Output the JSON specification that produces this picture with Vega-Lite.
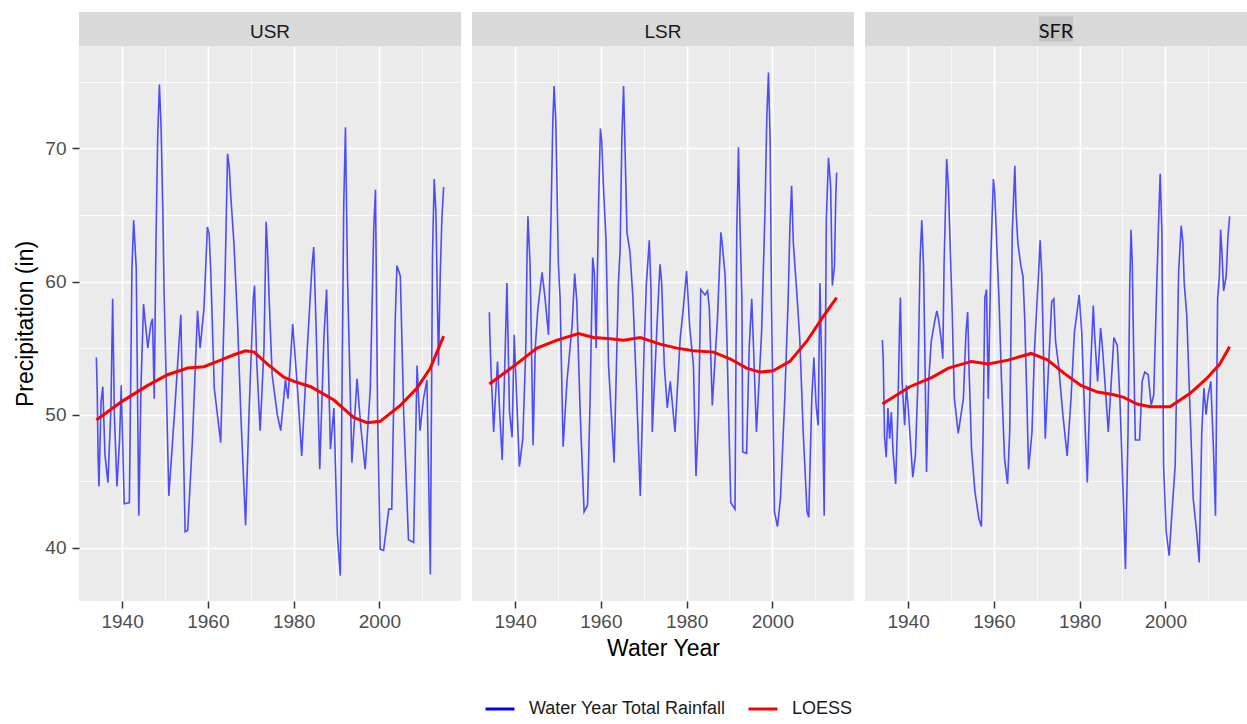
{
  "$schema": "https://vega.github.io/schema/vega-lite/v6.json",
  "background": "white",
  "padding": {"left": 14, "top": 12, "right": 0, "bottom": 0},
  "datasets": {
    "usr_rain": [
      {"year": 1934.0, "precip": 54.3}, {"year": 1934.2, "precip": 51.8}, {"year": 1934.4, "precip": 46.9}, {"year": 1934.6, "precip": 44.6},
      {"year": 1935.1, "precip": 51.0}, {"year": 1935.5, "precip": 52.1}, {"year": 1936.0, "precip": 47.0}, {"year": 1936.7, "precip": 44.9},
      {"year": 1937.4, "precip": 50.5}, {"year": 1937.8, "precip": 58.7}, {"year": 1938.2, "precip": 50.0}, {"year": 1938.8, "precip": 44.6},
      {"year": 1939.4, "precip": 48.0}, {"year": 1939.8, "precip": 52.2}, {"year": 1940.5, "precip": 43.3}, {"year": 1941.7, "precip": 43.4},
      {"year": 1942.3, "precip": 61.0}, {"year": 1942.7, "precip": 64.6}, {"year": 1943.3, "precip": 61.0}, {"year": 1943.9, "precip": 42.4},
      {"year": 1944.4, "precip": 52.0}, {"year": 1945.0, "precip": 58.3}, {"year": 1946.0, "precip": 55.0}, {"year": 1946.7, "precip": 56.8},
      {"year": 1947.1, "precip": 57.2}, {"year": 1947.5, "precip": 51.2}, {"year": 1947.9, "precip": 62.9}, {"year": 1948.3, "precip": 70.8},
      {"year": 1948.7, "precip": 74.8}, {"year": 1949.1, "precip": 71.6}, {"year": 1949.5, "precip": 65.4}, {"year": 1949.8, "precip": 59.3},
      {"year": 1950.9, "precip": 43.9}, {"year": 1952.2, "precip": 50.0}, {"year": 1953.7, "precip": 57.5}, {"year": 1954.7, "precip": 41.2},
      {"year": 1955.3, "precip": 41.3}, {"year": 1956.4, "precip": 48.0}, {"year": 1957.6, "precip": 57.8}, {"year": 1958.2, "precip": 55.0},
      {"year": 1959.1, "precip": 58.0}, {"year": 1959.9, "precip": 64.1}, {"year": 1960.3, "precip": 63.6}, {"year": 1960.7, "precip": 60.6},
      {"year": 1961.5, "precip": 52.0}, {"year": 1963.0, "precip": 47.9}, {"year": 1964.0, "precip": 60.0}, {"year": 1964.6, "precip": 69.6},
      {"year": 1965.0, "precip": 68.6}, {"year": 1965.3, "precip": 66.7}, {"year": 1966.1, "precip": 62.8}, {"year": 1966.9, "precip": 57.2},
      {"year": 1967.7, "precip": 50.0}, {"year": 1968.8, "precip": 41.7}, {"year": 1969.6, "precip": 50.0}, {"year": 1970.6, "precip": 58.7},
      {"year": 1970.9, "precip": 59.7}, {"year": 1971.4, "precip": 54.0}, {"year": 1972.2, "precip": 48.8}, {"year": 1973.1, "precip": 55.0},
      {"year": 1973.6, "precip": 64.5}, {"year": 1973.9, "precip": 62.6}, {"year": 1974.3, "precip": 58.7}, {"year": 1975.0, "precip": 53.0},
      {"year": 1976.2, "precip": 50.0}, {"year": 1977.0, "precip": 48.8}, {"year": 1978.1, "precip": 52.6}, {"year": 1978.7, "precip": 51.2},
      {"year": 1979.8, "precip": 56.8}, {"year": 1980.9, "precip": 52.0}, {"year": 1981.9, "precip": 46.9}, {"year": 1983.2, "precip": 55.0},
      {"year": 1984.3, "precip": 61.2}, {"year": 1984.7, "precip": 62.6}, {"year": 1985.3, "precip": 56.0}, {"year": 1986.1, "precip": 45.9},
      {"year": 1987.1, "precip": 56.0}, {"year": 1987.7, "precip": 59.4}, {"year": 1988.6, "precip": 47.4}, {"year": 1989.4, "precip": 50.5},
      {"year": 1990.2, "precip": 41.0}, {"year": 1990.9, "precip": 37.9}, {"year": 1991.7, "precip": 65.8}, {"year": 1992.1, "precip": 71.6},
      {"year": 1992.6, "precip": 60.0}, {"year": 1993.6, "precip": 46.4}, {"year": 1994.8, "precip": 52.7}, {"year": 1995.7, "precip": 49.0},
      {"year": 1996.7, "precip": 45.9}, {"year": 1997.9, "precip": 52.0}, {"year": 1998.7, "precip": 64.0}, {"year": 1999.1, "precip": 66.9},
      {"year": 1999.6, "precip": 50.0}, {"year": 2000.2, "precip": 39.9}, {"year": 2001.0, "precip": 39.8}, {"year": 2002.2, "precip": 42.9},
      {"year": 2002.9, "precip": 42.9}, {"year": 2003.7, "precip": 57.0}, {"year": 2004.1, "precip": 61.2}, {"year": 2004.9, "precip": 60.4},
      {"year": 2005.7, "precip": 50.0}, {"year": 2006.8, "precip": 40.6}, {"year": 2008.0, "precip": 40.4}, {"year": 2008.8, "precip": 53.7},
      {"year": 2009.5, "precip": 48.8}, {"year": 2010.3, "precip": 51.2}, {"year": 2011.1, "precip": 52.6}, {"year": 2011.9, "precip": 38.0},
      {"year": 2012.4, "precip": 62.0}, {"year": 2012.8, "precip": 67.7}, {"year": 2013.2, "precip": 65.2}, {"year": 2013.8, "precip": 53.7},
      {"year": 2014.2, "precip": 60.4}, {"year": 2014.6, "precip": 64.8}, {"year": 2015.0, "precip": 67.1}
    ],
    "usr_loess": [
      {"year": 1934.0, "precip": 49.6}, {"year": 1940.0, "precip": 51.0}, {"year": 1946.0, "precip": 52.2}, {"year": 1950.6, "precip": 53.0},
      {"year": 1955.3, "precip": 53.5}, {"year": 1959.1, "precip": 53.6}, {"year": 1963.0, "precip": 54.1}, {"year": 1966.1, "precip": 54.5},
      {"year": 1968.8, "precip": 54.8}, {"year": 1970.8, "precip": 54.7}, {"year": 1973.9, "precip": 53.8}, {"year": 1977.8, "precip": 52.8},
      {"year": 1980.1, "precip": 52.5}, {"year": 1984.0, "precip": 52.1}, {"year": 1989.4, "precip": 51.1}, {"year": 1994.0, "precip": 49.8},
      {"year": 1997.1, "precip": 49.4}, {"year": 2000.2, "precip": 49.5}, {"year": 2004.9, "precip": 50.7}, {"year": 2008.8, "precip": 52.0},
      {"year": 2011.9, "precip": 53.5}, {"year": 2015.0, "precip": 55.9}
    ],
    "lsr_rain": [
      {"year": 1934.0, "precip": 57.7}, {"year": 1934.1, "precip": 56.2}, {"year": 1934.4, "precip": 53.2}, {"year": 1934.8, "precip": 50.3},
      {"year": 1935.0, "precip": 48.7}, {"year": 1935.4, "precip": 51.2}, {"year": 1935.9, "precip": 54.0}, {"year": 1936.4, "precip": 50.2},
      {"year": 1937.0, "precip": 46.6}, {"year": 1937.6, "precip": 53.7}, {"year": 1938.1, "precip": 59.9}, {"year": 1938.7, "precip": 50.2},
      {"year": 1939.3, "precip": 48.3}, {"year": 1939.8, "precip": 56.0}, {"year": 1940.4, "precip": 51.0}, {"year": 1941.0, "precip": 46.1},
      {"year": 1941.8, "precip": 48.2}, {"year": 1942.5, "precip": 55.0}, {"year": 1942.8, "precip": 62.2}, {"year": 1943.0, "precip": 64.9},
      {"year": 1943.5, "precip": 61.2}, {"year": 1944.2, "precip": 47.7}, {"year": 1944.7, "precip": 55.0}, {"year": 1945.3, "precip": 57.9},
      {"year": 1946.3, "precip": 60.7}, {"year": 1947.0, "precip": 58.7}, {"year": 1947.8, "precip": 56.0}, {"year": 1948.4, "precip": 65.2},
      {"year": 1948.8, "precip": 72.0}, {"year": 1949.1, "precip": 74.7}, {"year": 1949.5, "precip": 72.0}, {"year": 1949.8, "precip": 66.7},
      {"year": 1950.1, "precip": 61.3}, {"year": 1950.5, "precip": 58.7}, {"year": 1951.2, "precip": 47.6}, {"year": 1952.1, "precip": 52.5},
      {"year": 1953.3, "precip": 56.7}, {"year": 1953.9, "precip": 60.6}, {"year": 1954.4, "precip": 58.5}, {"year": 1955.2, "precip": 50.0},
      {"year": 1956.1, "precip": 42.7}, {"year": 1956.9, "precip": 43.2}, {"year": 1957.5, "precip": 51.2}, {"year": 1958.1, "precip": 61.8},
      {"year": 1958.5, "precip": 60.6}, {"year": 1958.9, "precip": 55.0}, {"year": 1959.5, "precip": 66.2}, {"year": 1959.9, "precip": 71.5},
      {"year": 1960.2, "precip": 70.6}, {"year": 1960.6, "precip": 67.2}, {"year": 1961.2, "precip": 63.2}, {"year": 1961.8, "precip": 53.7},
      {"year": 1963.1, "precip": 46.4}, {"year": 1964.1, "precip": 59.9}, {"year": 1964.5, "precip": 62.4}, {"year": 1964.9, "precip": 70.7},
      {"year": 1965.3, "precip": 74.7}, {"year": 1965.5, "precip": 72.0}, {"year": 1966.1, "precip": 63.7}, {"year": 1966.8, "precip": 62.2},
      {"year": 1967.5, "precip": 58.7}, {"year": 1968.4, "precip": 51.2}, {"year": 1969.2, "precip": 43.9}, {"year": 1970.1, "precip": 55.0},
      {"year": 1970.6, "precip": 59.7}, {"year": 1971.3, "precip": 63.1}, {"year": 1971.7, "precip": 59.4}, {"year": 1972.0, "precip": 48.7},
      {"year": 1973.1, "precip": 56.7}, {"year": 1973.8, "precip": 61.3}, {"year": 1974.2, "precip": 59.9}, {"year": 1974.8, "precip": 53.7},
      {"year": 1975.5, "precip": 50.5}, {"year": 1976.2, "precip": 52.5}, {"year": 1977.3, "precip": 48.7}, {"year": 1978.5, "precip": 55.7},
      {"year": 1979.3, "precip": 58.2}, {"year": 1980.0, "precip": 60.8}, {"year": 1980.7, "precip": 56.7}, {"year": 1981.6, "precip": 53.7},
      {"year": 1982.2, "precip": 45.4}, {"year": 1982.8, "precip": 50.0}, {"year": 1983.3, "precip": 59.4}, {"year": 1984.3, "precip": 59.0},
      {"year": 1984.9, "precip": 59.3}, {"year": 1985.3, "precip": 58.0}, {"year": 1986.0, "precip": 50.7}, {"year": 1987.2, "precip": 57.2},
      {"year": 1988.0, "precip": 63.7}, {"year": 1988.3, "precip": 62.9}, {"year": 1989.0, "precip": 60.4}, {"year": 1989.4, "precip": 55.7},
      {"year": 1990.3, "precip": 43.4}, {"year": 1991.3, "precip": 42.9}, {"year": 1991.7, "precip": 63.7}, {"year": 1992.1, "precip": 70.1},
      {"year": 1992.5, "precip": 63.7}, {"year": 1992.9, "precip": 58.7}, {"year": 1993.1, "precip": 47.2}, {"year": 1994.0, "precip": 47.1},
      {"year": 1994.6, "precip": 55.0}, {"year": 1995.2, "precip": 58.7}, {"year": 1995.6, "precip": 55.2}, {"year": 1996.3, "precip": 48.7},
      {"year": 1997.5, "precip": 56.2}, {"year": 1998.3, "precip": 65.4}, {"year": 1998.7, "precip": 72.2}, {"year": 1999.1, "precip": 75.7},
      {"year": 1999.5, "precip": 70.5}, {"year": 1999.8, "precip": 58.7}, {"year": 2000.5, "precip": 42.7}, {"year": 2001.2, "precip": 41.6},
      {"year": 2001.9, "precip": 43.7}, {"year": 2002.9, "precip": 51.2}, {"year": 2003.7, "precip": 58.7}, {"year": 2004.1, "precip": 64.2},
      {"year": 2004.5, "precip": 67.2}, {"year": 2004.9, "precip": 62.9}, {"year": 2005.7, "precip": 59.2}, {"year": 2006.4, "precip": 55.7},
      {"year": 2007.2, "precip": 48.7}, {"year": 2008.1, "precip": 42.7}, {"year": 2008.5, "precip": 42.3}, {"year": 2009.2, "precip": 51.2},
      {"year": 2009.7, "precip": 54.3}, {"year": 2010.2, "precip": 50.7}, {"year": 2010.7, "precip": 49.2}, {"year": 2011.1, "precip": 59.9},
      {"year": 2011.6, "precip": 52.5}, {"year": 2012.1, "precip": 42.4}, {"year": 2012.6, "precip": 64.7}, {"year": 2013.1, "precip": 69.3},
      {"year": 2013.6, "precip": 67.2}, {"year": 2014.0, "precip": 59.7}, {"year": 2014.5, "precip": 61.2}, {"year": 2014.8, "precip": 66.4},
      {"year": 2015.0, "precip": 68.2}
    ],
    "lsr_loess": [
      {"year": 1934.0, "precip": 52.3}, {"year": 1940.3, "precip": 53.8}, {"year": 1945.1, "precip": 55.0}, {"year": 1949.8, "precip": 55.6},
      {"year": 1954.8, "precip": 56.1}, {"year": 1958.3, "precip": 55.8}, {"year": 1962.2, "precip": 55.7}, {"year": 1965.3, "precip": 55.6},
      {"year": 1969.2, "precip": 55.8}, {"year": 1973.8, "precip": 55.3}, {"year": 1977.7, "precip": 55.0}, {"year": 1981.6, "precip": 54.8},
      {"year": 1986.3, "precip": 54.7}, {"year": 1990.1, "precip": 54.2}, {"year": 1994.0, "precip": 53.5}, {"year": 1997.1, "precip": 53.2},
      {"year": 2000.2, "precip": 53.3}, {"year": 2004.1, "precip": 54.0}, {"year": 2008.0, "precip": 55.5}, {"year": 2011.5, "precip": 57.2},
      {"year": 2015.0, "precip": 58.8}
    ],
    "sfr_rain": [
      {"year": 1934.0, "precip": 55.6}, {"year": 1934.2, "precip": 54.2}, {"year": 1934.5, "precip": 48.4}, {"year": 1934.9, "precip": 46.8},
      {"year": 1935.3, "precip": 50.5}, {"year": 1935.7, "precip": 48.2}, {"year": 1936.1, "precip": 50.2}, {"year": 1936.5, "precip": 47.2},
      {"year": 1937.1, "precip": 44.8}, {"year": 1937.6, "precip": 50.0}, {"year": 1938.0, "precip": 56.5}, {"year": 1938.2, "precip": 58.8},
      {"year": 1938.6, "precip": 52.5}, {"year": 1939.2, "precip": 49.2}, {"year": 1939.6, "precip": 52.2}, {"year": 1940.0, "precip": 50.7},
      {"year": 1940.4, "precip": 48.7}, {"year": 1941.1, "precip": 45.3}, {"year": 1941.7, "precip": 46.9}, {"year": 1942.3, "precip": 52.5},
      {"year": 1942.8, "precip": 61.7}, {"year": 1943.2, "precip": 64.6}, {"year": 1943.6, "precip": 61.2}, {"year": 1943.9, "precip": 55.0},
      {"year": 1944.3, "precip": 45.7}, {"year": 1944.8, "precip": 52.5}, {"year": 1945.4, "precip": 55.5}, {"year": 1946.2, "precip": 57.0},
      {"year": 1946.7, "precip": 57.8}, {"year": 1947.1, "precip": 57.2}, {"year": 1947.7, "precip": 55.7}, {"year": 1948.1, "precip": 54.2},
      {"year": 1948.4, "precip": 61.4}, {"year": 1948.8, "precip": 66.6}, {"year": 1949.0, "precip": 69.2}, {"year": 1949.4, "precip": 67.1},
      {"year": 1949.8, "precip": 62.9}, {"year": 1950.2, "precip": 58.7}, {"year": 1950.8, "precip": 51.2}, {"year": 1951.7, "precip": 48.6},
      {"year": 1952.9, "precip": 51.2}, {"year": 1953.5, "precip": 56.2}, {"year": 1953.9, "precip": 57.7}, {"year": 1954.2, "precip": 53.7},
      {"year": 1954.8, "precip": 47.4}, {"year": 1955.6, "precip": 44.2}, {"year": 1956.5, "precip": 42.2}, {"year": 1957.1, "precip": 41.6},
      {"year": 1957.5, "precip": 48.7}, {"year": 1957.9, "precip": 58.8}, {"year": 1958.3, "precip": 59.4}, {"year": 1958.7, "precip": 51.2},
      {"year": 1959.3, "precip": 61.7}, {"year": 1959.6, "precip": 64.9}, {"year": 1959.9, "precip": 67.7}, {"year": 1960.2, "precip": 66.7},
      {"year": 1960.7, "precip": 62.7}, {"year": 1961.2, "precip": 58.7}, {"year": 1961.8, "precip": 52.5}, {"year": 1962.5, "precip": 46.7},
      {"year": 1963.2, "precip": 44.8}, {"year": 1963.7, "precip": 48.7}, {"year": 1964.3, "precip": 63.7}, {"year": 1964.9, "precip": 68.7},
      {"year": 1965.2, "precip": 65.2}, {"year": 1965.6, "precip": 62.9}, {"year": 1966.3, "precip": 61.2}, {"year": 1966.8, "precip": 60.4},
      {"year": 1967.2, "precip": 57.2}, {"year": 1967.6, "precip": 52.5}, {"year": 1968.1, "precip": 45.9}, {"year": 1968.9, "precip": 48.7},
      {"year": 1969.5, "precip": 55.0}, {"year": 1970.4, "precip": 60.4}, {"year": 1970.8, "precip": 63.1}, {"year": 1971.2, "precip": 60.4},
      {"year": 1972.0, "precip": 48.2}, {"year": 1972.6, "precip": 52.5}, {"year": 1973.5, "precip": 58.5}, {"year": 1974.0, "precip": 58.7},
      {"year": 1974.4, "precip": 55.5}, {"year": 1975.1, "precip": 53.7}, {"year": 1976.1, "precip": 50.0}, {"year": 1977.1, "precip": 46.9},
      {"year": 1978.0, "precip": 51.2}, {"year": 1978.8, "precip": 56.2}, {"year": 1979.6, "precip": 58.2}, {"year": 1979.9, "precip": 59.0},
      {"year": 1980.5, "precip": 56.2}, {"year": 1981.1, "precip": 50.7}, {"year": 1981.8, "precip": 44.9}, {"year": 1982.6, "precip": 53.7},
      {"year": 1983.2, "precip": 58.2}, {"year": 1983.5, "precip": 56.0}, {"year": 1984.2, "precip": 52.5}, {"year": 1984.9, "precip": 56.5},
      {"year": 1985.3, "precip": 55.2}, {"year": 1985.9, "precip": 52.5}, {"year": 1986.7, "precip": 48.7}, {"year": 1987.4, "precip": 52.5},
      {"year": 1988.0, "precip": 55.8}, {"year": 1988.8, "precip": 55.2}, {"year": 1989.4, "precip": 51.2}, {"year": 1990.2, "precip": 43.7},
      {"year": 1990.7, "precip": 38.4}, {"year": 1991.3, "precip": 48.7}, {"year": 1991.7, "precip": 59.7}, {"year": 1992.0, "precip": 63.9},
      {"year": 1992.3, "precip": 61.2}, {"year": 1992.6, "precip": 55.0}, {"year": 1993.0, "precip": 48.1}, {"year": 1994.0, "precip": 48.1},
      {"year": 1994.6, "precip": 52.5}, {"year": 1995.2, "precip": 53.2}, {"year": 1996.0, "precip": 53.0}, {"year": 1996.7, "precip": 50.7},
      {"year": 1997.3, "precip": 51.5}, {"year": 1998.0, "precip": 59.7}, {"year": 1998.5, "precip": 65.2}, {"year": 1998.8, "precip": 68.1},
      {"year": 1999.2, "precip": 63.7}, {"year": 1999.6, "precip": 46.2}, {"year": 2000.2, "precip": 41.2}, {"year": 2000.9, "precip": 39.4},
      {"year": 2001.5, "precip": 42.4}, {"year": 2002.3, "precip": 46.2}, {"year": 2003.1, "precip": 60.7}, {"year": 2003.7, "precip": 64.2},
      {"year": 2004.1, "precip": 62.9}, {"year": 2004.4, "precip": 59.9}, {"year": 2005.0, "precip": 57.5}, {"year": 2005.8, "precip": 50.0},
      {"year": 2006.5, "precip": 43.7}, {"year": 2007.3, "precip": 41.2}, {"year": 2007.9, "precip": 38.9}, {"year": 2008.5, "precip": 48.7},
      {"year": 2009.0, "precip": 52.0}, {"year": 2009.5, "precip": 50.0}, {"year": 2010.0, "precip": 51.5}, {"year": 2010.6, "precip": 52.5},
      {"year": 2011.2, "precip": 47.7}, {"year": 2011.7, "precip": 42.4}, {"year": 2012.2, "precip": 58.7}, {"year": 2012.6, "precip": 60.4},
      {"year": 2012.9, "precip": 63.9}, {"year": 2013.2, "precip": 62.2}, {"year": 2013.6, "precip": 59.3}, {"year": 2014.2, "precip": 60.4},
      {"year": 2014.6, "precip": 63.3}, {"year": 2015.0, "precip": 64.9}
    ],
    "sfr_loess": [
      {"year": 1934.0, "precip": 50.8}, {"year": 1940.4, "precip": 52.1}, {"year": 1945.6, "precip": 52.8}, {"year": 1949.4, "precip": 53.5},
      {"year": 1954.8, "precip": 54.0}, {"year": 1958.7, "precip": 53.8}, {"year": 1963.3, "precip": 54.1}, {"year": 1968.7, "precip": 54.6},
      {"year": 1972.6, "precip": 54.1}, {"year": 1976.4, "precip": 53.1}, {"year": 1980.3, "precip": 52.2}, {"year": 1984.2, "precip": 51.7},
      {"year": 1988.0, "precip": 51.5}, {"year": 1990.3, "precip": 51.3}, {"year": 1993.4, "precip": 50.8}, {"year": 1996.5, "precip": 50.6},
      {"year": 2001.1, "precip": 50.6}, {"year": 2005.8, "precip": 51.6}, {"year": 2009.6, "precip": 52.7}, {"year": 2012.7, "precip": 53.8},
      {"year": 2015.0, "precip": 55.1}
    ]
  },
  "spacing": 11,
  "hconcat": [
    {
      "spacing": 0,
      "vconcat": [
        {
          "width": 382, "height": 34,
          "view": {"fill": "#D9D9D9", "stroke": null},
          "data": {"values": [{"basin": "USR"}]},
          "mark": {"type": "text", "font": "Liberation Sans", "fontSize": 19, "color": "#1A1A1A", "baseline": "middle", "dy": 3},
          "encoding": {"text": {"field": "basin"}}
        },
        {
          "width": 382, "height": 555,
          "view": {"fill": "#EBEBEB", "stroke": null},
          "encoding": {
            "x": {"field": "year", "type": "quantitative", "scale": {"domain": [1929.95, 2019.05], "nice": false, "zero": false},
                  "axis": {"values": [1940, 1950, 1960, 1970, 1980, 1990, 2000, 2010], "format": "d", "title": null,
                           "labelExpr": "datum.value % 20 === 0 ? datum.label : ''",
                           "tickOpacity": {"condition": {"test": "datum.value % 20 === 0", "value": 1}, "value": 0},
                           "gridWidth": {"condition": {"test": "datum.value % 20 === 0", "value": 1.7}, "value": 0.8}}},
            "y": {"field": "precip", "type": "quantitative", "scale": {"domain": [36.0, 77.7], "nice": false, "zero": false},
                  "axis": {"values": [40, 45, 50, 55, 60, 65, 70, 75], "title": "Precipitation (in)",
                           "labelExpr": "datum.value % 10 === 0 ? datum.label : ''",
                           "tickOpacity": {"condition": {"test": "datum.value % 10 === 0", "value": 1}, "value": 0},
                           "gridWidth": {"condition": {"test": "datum.value % 10 === 0", "value": 1.7}, "value": 0.8}}}
          },
          "layer": [
            {"data": {"name": "usr_rain"}, "mark": {"type": "line", "strokeWidth": 1.6, "strokeOpacity": 0.68},
             "encoding": {"color": {"datum": "Water Year Total Rainfall",
                                    "scale": {"domain": ["Water Year Total Rainfall", "LOESS"], "range": ["#0000FF", "#FF0000"]},
                                    "legend": {"title": null}}}},
            {"data": {"name": "usr_loess"}, "mark": {"type": "line", "strokeWidth": 3}, "encoding": {"color": {"datum": "LOESS"}}}
          ]
        }
      ]
    },
    {
      "spacing": 0,
      "vconcat": [
        {
          "width": 382, "height": 34,
          "view": {"fill": "#D9D9D9", "stroke": null},
          "data": {"values": [{"basin": "LSR"}]},
          "mark": {"type": "text", "font": "Liberation Sans", "fontSize": 19, "color": "#1A1A1A", "baseline": "middle", "dy": 3},
          "encoding": {"text": {"field": "basin"}}
        },
        {
          "width": 382, "height": 555,
          "view": {"fill": "#EBEBEB", "stroke": null},
          "encoding": {
            "x": {"field": "year", "type": "quantitative", "scale": {"domain": [1929.95, 2019.05], "nice": false, "zero": false},
                  "axis": {"values": [1940, 1950, 1960, 1970, 1980, 1990, 2000, 2010], "format": "d", "title": "Water Year",
                           "labelExpr": "datum.value % 20 === 0 ? datum.label : ''",
                           "tickOpacity": {"condition": {"test": "datum.value % 20 === 0", "value": 1}, "value": 0},
                           "gridWidth": {"condition": {"test": "datum.value % 20 === 0", "value": 1.7}, "value": 0.8}}},
            "y": {"field": "precip", "type": "quantitative", "scale": {"domain": [36.0, 77.7], "nice": false, "zero": false},
                  "axis": {"values": [40, 45, 50, 55, 60, 65, 70, 75], "title": null, "labels": false, "ticks": false,
                           "gridWidth": {"condition": {"test": "datum.value % 10 === 0", "value": 1.7}, "value": 0.8}}}
          },
          "layer": [
            {"data": {"name": "lsr_rain"}, "mark": {"type": "line", "strokeWidth": 1.6, "strokeOpacity": 0.68}, "encoding": {"color": {"datum": "Water Year Total Rainfall"}}},
            {"data": {"name": "lsr_loess"}, "mark": {"type": "line", "strokeWidth": 3}, "encoding": {"color": {"datum": "LOESS"}}}
          ]
        }
      ]
    },
    {
      "spacing": 0,
      "vconcat": [
        {
          "width": 382, "height": 34,
          "view": {"fill": "#D9D9D9", "stroke": null},
          "data": {"values": [{"basin": "SFR"}]},
          "layer": [
            {"mark": {"type": "point", "shape": "M-1.36,-1H1.36V1H-1.36Z", "size": 625, "filled": true, "color": "#C4C4C4", "opacity": 1, "strokeWidth": 0},
             "encoding": {}},
            {"mark": {"type": "text", "font": "Lato", "fontSize": 20, "color": "#111111", "baseline": "middle", "dy": 3},
             "encoding": {"text": {"field": "basin"}}}
          ]
        },
        {
          "width": 382, "height": 555,
          "view": {"fill": "#EBEBEB", "stroke": null},
          "encoding": {
            "x": {"field": "year", "type": "quantitative", "scale": {"domain": [1929.95, 2019.05], "nice": false, "zero": false},
                  "axis": {"values": [1940, 1950, 1960, 1970, 1980, 1990, 2000, 2010], "format": "d", "title": null,
                           "labelExpr": "datum.value % 20 === 0 ? datum.label : ''",
                           "tickOpacity": {"condition": {"test": "datum.value % 20 === 0", "value": 1}, "value": 0},
                           "gridWidth": {"condition": {"test": "datum.value % 20 === 0", "value": 1.7}, "value": 0.8}}},
            "y": {"field": "precip", "type": "quantitative", "scale": {"domain": [36.0, 77.7], "nice": false, "zero": false},
                  "axis": {"values": [40, 45, 50, 55, 60, 65, 70, 75], "title": null, "labels": false, "ticks": false,
                           "gridWidth": {"condition": {"test": "datum.value % 10 === 0", "value": 1.7}, "value": 0.8}}}
          },
          "layer": [
            {"data": {"name": "sfr_rain"}, "mark": {"type": "line", "strokeWidth": 1.6, "strokeOpacity": 0.68}, "encoding": {"color": {"datum": "Water Year Total Rainfall"}}},
            {"data": {"name": "sfr_loess"}, "mark": {"type": "line", "strokeWidth": 3}, "encoding": {"color": {"datum": "LOESS"}}}
          ]
        }
      ]
    }
  ],
  "config": {
    "font": "Liberation Sans",
    "view": {"stroke": null},
    "axis": {
      "domain": false,
      "grid": true,
      "gridColor": "#FFFFFF",
      "tickColor": "#333333",
      "tickSize": 7,
      "tickWidth": 1.5,
      "labelColor": "#4D4D4D",
      "labelFont": "Liberation Sans",
      "labelFontSize": 19,
      "titleFont": "Liberation Sans",
      "titleFontSize": 23,
      "titleFontWeight": "normal",
      "titleColor": "#000000"
    },
    "axisX": {"labelPadding": 4, "titlePadding": 6},
    "axisY": {"labelPadding": 6, "titlePadding": 7},
    "legend": {
      "orient": "none",
      "legendX": 405,
      "legendY": 681,
      "direction": "horizontal",
      "symbolType": "stroke",
      "symbolSize": 841,
      "symbolStrokeWidth": 3,
      "labelFont": "Liberation Sans",
      "labelFontSize": 18,
      "labelColor": "#1A1A1A",
      "labelLimit": 0,
      "labelOffset": 13,
      "columnPadding": 16,
      "padding": 0
    }
  }
}
